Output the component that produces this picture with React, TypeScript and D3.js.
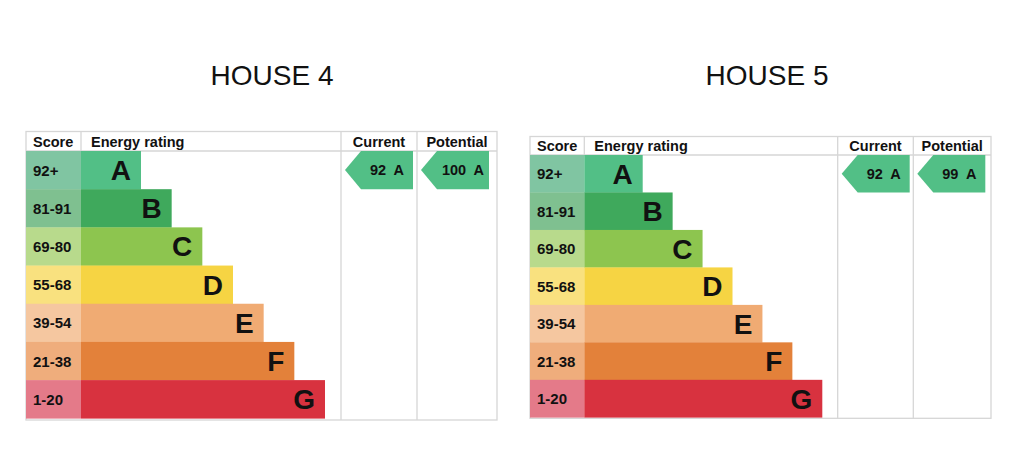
import React from "react";
import * as d3 from "d3";

const bandLetters = ["A", "B", "C", "D", "E", "F", "G"];
const bandRanges = ["92+", "81-91", "69-80", "55-68", "39-54", "21-38", "1-20"];
const barColors = ["#52bf86", "#3fa95c", "#8dc54f", "#f6d443", "#f0ab73", "#e3813a", "#d8323f"];
const scoreColors = ["#80c5a2", "#7fc090", "#b8da8c", "#f9e17f", "#f5c7a0", "#efad7c", "#e47a89"];
const houseNames = ["HOUSE 4", "HOUSE 5"];
const currentScores = [92, 92];
const potentialScores = [100, 99];
const bandMins = [92, 81, 69, 55, 39, 21, 1];
const headers = ["Score", "Energy rating", "Current", "Potential"];

type Layout = {
  x0: number; x1: number; yTop: number; yHead: number; yRows: number; yBottom: number;
  scoreRight: number; curLeft: number; potLeft: number; barMin: number; barMax: number; titleX: number;
};

const layouts: Layout[] = [
  { x0: 26, x1: 497, yTop: 131.5, yHead: 151, yRows: 418.3, yBottom: 420, scoreRight: 81, curLeft: 341, potLeft: 417, barMin: 60, barMax: 244, titleX: 272 },
  { x0: 530, x1: 991, yTop: 136.5, yHead: 155, yRows: 417.3, yBottom: 418.3, scoreRight: 584.3, curLeft: 837.7, potLeft: 913.3, barMin: 58.4, barMax: 238, titleX: 767 },
];

const FONT = "'Liberation Sans', Arial, Helvetica, sans-serif";
const LINE = "#d6d6d6";

function bandIndex(score: number) {
  return bandMins.findIndex((m) => score >= m);
}

function Arrow({ x, y, h, label }: { x: number; y: number; h: number; label: string }) {
  const w = 68;
  const notch = 16;
  const path = d3.path();
  path.moveTo(x, y + h / 2);
  path.lineTo(x + notch, y);
  path.lineTo(x + w, y);
  path.lineTo(x + w, y + h);
  path.lineTo(x + notch, y + h);
  path.closePath();
  return (
    <g>
      <path d={path.toString()} fill="#52bf86" />
      <text
        x={x + notch + (w - notch) / 2}
        y={y + h / 2 + 5}
        textAnchor="middle"
        fontFamily={FONT}
        fontWeight="bold"
        fontSize={14.5}
        fill="#111"
        style={{ whiteSpace: "pre" }}
      >
        {label}
      </text>
    </g>
  );
}

function Panel({ idx }: { idx: number }) {
  const L = layouts[idx];
  const y = d3.scaleBand<string>().domain(bandLetters).range([L.yHead, L.yRows]).paddingInner(0);
  const w = d3.scaleLinear().domain([0, bandLetters.length - 1]).range([L.barMin, L.barMax]);
  const rowH = y.bandwidth();
  const cur = currentScores[idx];
  const pot = potentialScores[idx];
  const ci = bandIndex(cur);
  const pi = bandIndex(pot);
  const headBase = L.yHead - 4.5;
  return (
    <g>
      <text x={L.titleX} y={85} textAnchor="middle" fontFamily={FONT} fontSize={28} fill="#111">
        {houseNames[idx]}
      </text>
      {/* outer frame and lines */}
      <rect x={L.x0} y={L.yTop} width={L.x1 - L.x0} height={L.yBottom - L.yTop} fill="#fff" stroke={LINE} strokeWidth={1.3} />
      <line x1={L.x0} x2={L.x1} y1={L.yHead} y2={L.yHead} stroke={LINE} strokeWidth={1.3} />
      <line x1={L.scoreRight} x2={L.scoreRight} y1={L.yTop} y2={L.yHead} stroke={LINE} strokeWidth={1.3} />
      <line x1={L.curLeft} x2={L.curLeft} y1={L.yTop} y2={L.yBottom} stroke={LINE} strokeWidth={1.3} />
      <line x1={L.potLeft} x2={L.potLeft} y1={L.yTop} y2={L.yBottom} stroke={LINE} strokeWidth={1.3} />
      {/* headers */}
      <text x={L.x0 + 7} y={headBase} fontFamily={FONT} fontWeight="bold" fontSize={14.5} fill="#111">{headers[0]}</text>
      <text x={L.scoreRight + 10} y={headBase} fontFamily={FONT} fontWeight="bold" fontSize={14.5} fill="#111">{headers[1]}</text>
      <text x={(L.curLeft + L.potLeft) / 2} y={headBase} textAnchor="middle" fontFamily={FONT} fontWeight="bold" fontSize={14.5} fill="#111">{headers[2]}</text>
      <text x={(L.potLeft + L.x1) / 2} y={headBase} textAnchor="middle" fontFamily={FONT} fontWeight="bold" fontSize={14.5} fill="#111">{headers[3]}</text>
      {/* rows */}
      {bandLetters.map((letter, i) => {
        const yy = y(letter)!;
        const right = L.scoreRight + w(i);
        return (
          <g key={letter}>
            <rect x={L.x0} y={yy} width={L.scoreRight - L.x0} height={rowH + 0.3} fill={scoreColors[i]} />
            <rect x={L.scoreRight} y={yy} width={w(i)} height={rowH + 0.3} fill={barColors[i]} />
            <text x={L.x0 + 7} y={yy + rowH / 2 + 5.5} fontFamily={FONT} fontWeight="bold" fontSize={15} fill="#111">
              {bandRanges[i]}
            </text>
            <text x={right - 10} y={yy + rowH / 2 + 10} textAnchor="end" fontFamily={FONT} fontWeight="bold" fontSize={28} fill="#111">
              {letter}
            </text>
          </g>
        );
      })}
      <Arrow x={L.curLeft + 4} y={y(bandLetters[ci])!} h={rowH} label={`${cur}  ${bandLetters[ci]}`} />
      <Arrow x={L.potLeft + 4} y={y(bandLetters[pi])!} h={rowH} label={`${pot}  ${bandLetters[pi]}`} />
    </g>
  );
}

export default function App() {
  return (
    <svg width={1024} height={456} style={{ position: "absolute", left: 0, top: 0, background: "#fff" }}>
      <rect width={1024} height={456} fill="#fff" />
      {houseNames.map((_, i) => (
        <Panel key={i} idx={i} />
      ))}
    </svg>
  );
}
